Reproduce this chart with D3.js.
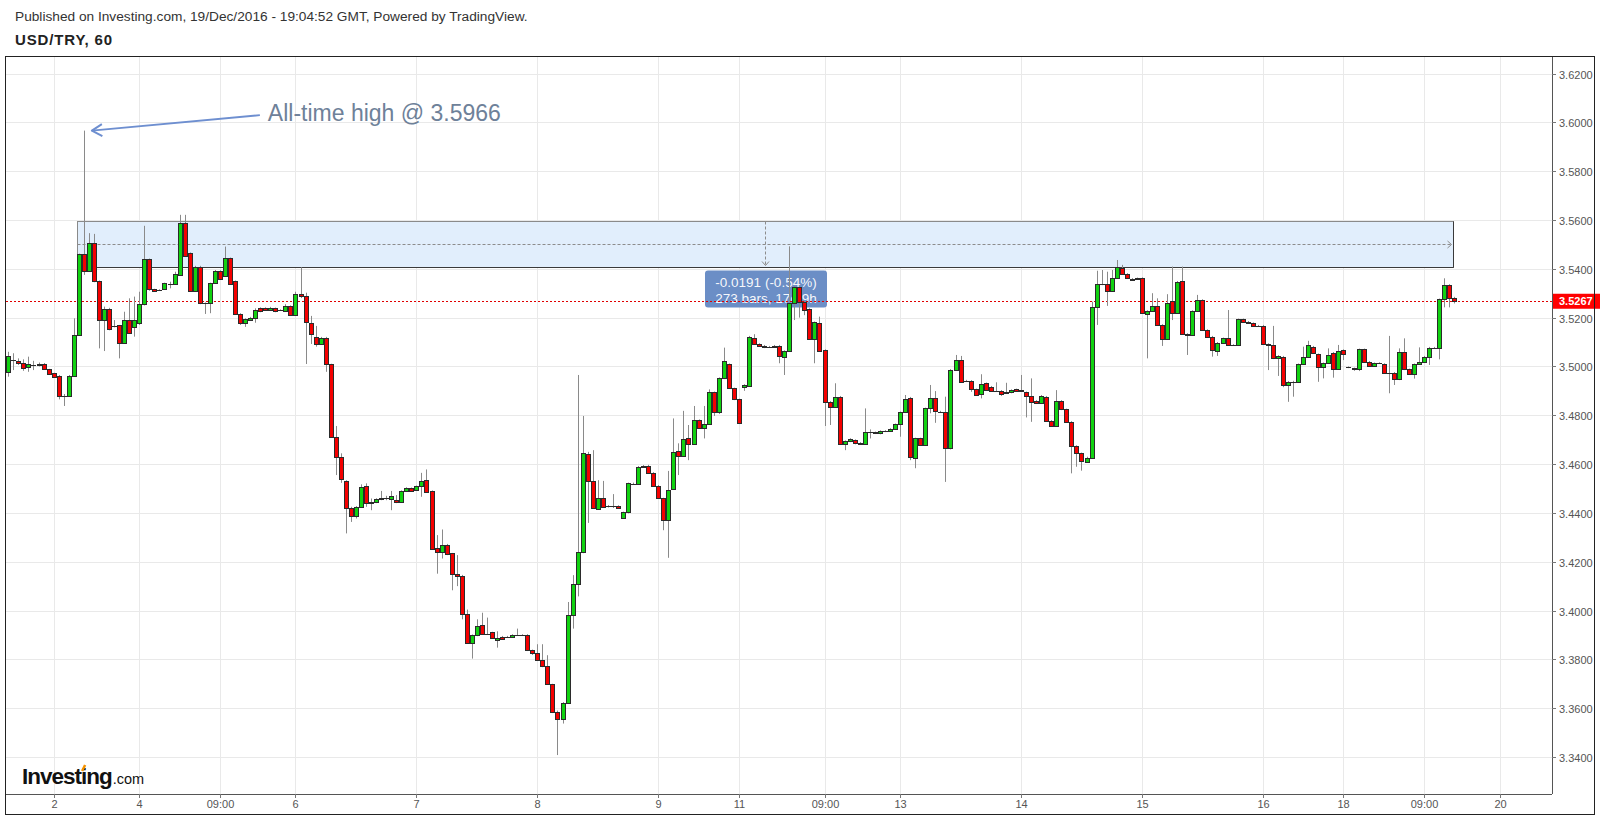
<!DOCTYPE html>
<html><head><meta charset="utf-8">
<script src="https://cdn.jsdelivr.net/npm/d3@7"></script>
<style>html,body{margin:0;padding:0;background:#fff;overflow:hidden;} svg{display:block;font-family:"Liberation Sans",Arial,sans-serif;}</style>
</head><body><svg id="chart" width="1600" height="818"></svg>
<script>
// USD/TRY hourly candles (index 0..287)
const opens = [
3.4976,3.5027,3.5023,3.5015,3.4996,3.5006,3.5007,3.5010,3.4988,3.4972,
3.4961,3.4879,3.4880,3.4962,3.5129,3.5460,3.5392,3.5507,3.5350,3.5190,
3.5235,3.5167,3.5168,3.5097,3.5190,3.5163,3.5177,3.5255,3.5439,3.5316,
3.5312,3.5316,3.5338,3.5338,3.5375,3.5589,3.5464,3.5309,3.5409,3.5259,
3.5259,3.5341,3.5391,3.5371,3.5443,3.5350,3.5215,3.5179,3.5190,3.5200,
3.5238,3.5238,3.5231,3.5238,3.5230,3.5227,3.5248,3.5211,3.5297,3.5289,
3.5179,3.5122,3.5092,3.5118,3.5009,3.4712,3.4627,3.4531,3.4422,3.4388,
3.4425,3.4510,3.4439,3.4445,3.4457,3.4459,3.4455,3.4452,3.4445,3.4490,
3.4500,3.4492,3.4509,3.4534,3.4489,3.4257,3.4238,3.4270,3.4234,3.4148,
3.4143,3.3984,3.3867,3.3899,3.3939,3.3905,3.3911,3.3881,3.3892,3.3892,
3.3892,3.3900,3.3900,3.3900,3.3837,3.3824,3.3799,3.3772,3.3698,3.3584,
3.3554,3.3622,3.3981,3.4107,3.4238,3.4641,3.4531,3.4417,3.4463,3.4429,
3.4428,3.4428,3.4381,3.4402,3.4518,3.4518,3.4589,3.4593,3.4564,3.4511,
3.4459,3.4370,3.4498,3.4653,3.4634,3.4708,3.4682,3.4780,3.4746,3.4764,
3.4894,3.4812,3.4951,3.5009,3.4910,3.4865,3.4914,3.4920,3.5115,3.5092,
3.5085,3.5081,3.5081,3.5085,3.5040,3.5063,3.5261,3.5324,3.5265,3.5235,
3.5112,3.5177,3.5067,3.4855,3.4835,3.4876,3.4681,3.4694,3.4698,3.4687,
3.4682,3.4730,3.4730,3.4726,3.4736,3.4735,3.4743,3.4763,3.4812,3.4872,
3.4626,3.4705,3.4678,3.4828,3.4872,3.4813,3.4812,3.4664,3.4985,3.5026,
3.4939,3.4941,3.4906,3.4887,3.4931,3.4917,3.4899,3.4900,3.4892,3.4894,
3.4906,3.4903,3.4894,3.4880,3.4859,3.4849,3.4876,3.4777,3.4756,3.4859,
3.4824,3.4773,3.4674,3.4644,3.4609,3.4626,3.5245,3.5337,3.5337,3.5310,
3.5364,3.5402,3.5379,3.5359,3.5357,3.5361,3.5215,3.5227,3.5248,3.5170,
3.5112,3.5268,3.5218,3.5351,3.5133,3.5129,3.5227,3.5272,3.5149,3.5122,
3.5064,3.5097,3.5115,3.5088,3.5088,3.5193,3.5183,3.5177,3.5167,3.5167,
3.5092,3.5088,3.5033,3.5040,3.4924,3.4937,3.4935,3.5009,3.5040,3.5081,
3.5050,3.4996,3.5013,3.5056,3.4989,3.5067,3.4997,3.4992,3.4989,3.5070,
3.5019,3.5002,3.5013,3.5010,3.4974,3.4974,3.4947,3.5060,3.4988,3.4968,
3.5009,3.5019,3.5040,3.5077,3.5077,3.5275,3.5334,3.5282];
const highs = [
3.5060,3.5054,3.5033,3.5029,3.5040,3.5023,3.5016,3.5014,3.4990,3.4974,
3.4965,3.4887,3.4965,3.5197,3.5462,3.5966,3.5546,3.5543,3.5352,3.5245,
3.5240,3.5190,3.5170,3.5224,3.5279,3.5286,3.5306,3.5576,3.5442,3.5318,
3.5316,3.5343,3.5347,3.5388,3.5621,3.5621,3.5467,3.5412,3.5412,3.5262,
3.5343,3.5395,3.5394,3.5491,3.5446,3.5352,3.5218,3.5197,3.5203,3.5238,
3.5242,3.5242,3.5244,3.5241,3.5234,3.5255,3.5250,3.5306,3.5406,3.5302,
3.5207,3.5166,3.5121,3.5121,3.5011,3.4756,3.4644,3.4534,3.4425,3.4428,
3.4517,3.4521,3.4459,3.4460,3.4490,3.4470,3.4490,3.4473,3.4492,3.4505,
3.4504,3.4512,3.4564,3.4578,3.4492,3.4309,3.4332,3.4273,3.4236,3.4227,
3.4146,3.4004,3.3902,3.3964,3.3991,3.3971,3.3913,3.3915,3.3896,3.3896,
3.3903,3.3926,3.3903,3.3903,3.3840,3.3862,3.3862,3.3817,3.3700,3.3590,
3.3625,3.4035,3.4145,3.4965,3.4797,3.4650,3.4657,3.4534,3.4531,3.4432,
3.4477,3.4431,3.4405,3.4524,3.4524,3.4592,3.4596,3.4597,3.4567,3.4514,
3.4462,3.4572,3.4787,3.4685,3.4818,3.4760,3.4838,3.4783,3.4838,3.4906,
3.4897,3.4955,3.5077,3.5012,3.4913,3.4868,3.4927,3.5125,3.5132,3.5095,
3.5088,3.5084,3.5088,3.5088,3.5066,3.5492,3.5330,3.5327,3.5268,3.5238,
3.5184,3.5204,3.5070,3.4858,3.4931,3.4879,3.4697,3.4706,3.4701,3.4690,
3.4828,3.4742,3.4733,3.4738,3.4739,3.4747,3.4766,3.4815,3.4883,3.4875,
3.4708,3.4708,3.4831,3.4924,3.4899,3.4818,3.4876,3.4989,3.5047,3.5043,
3.4945,3.4944,3.4909,3.4968,3.4934,3.4920,3.4935,3.4903,3.4933,3.4906,
3.4909,3.4965,3.4897,3.4951,3.4862,3.4883,3.4879,3.4780,3.4903,3.4862,
3.4827,3.4776,3.4677,3.4647,3.4630,3.5265,3.5392,3.5395,3.5388,3.5395,
3.5436,3.5416,3.5382,3.5362,3.5364,3.5365,3.5230,3.5300,3.5279,3.5173,
3.5296,3.5409,3.5350,3.5409,3.5136,3.5230,3.5293,3.5275,3.5152,3.5125,
3.5100,3.5118,3.5231,3.5091,3.5196,3.5196,3.5186,3.5180,3.5170,3.5170,
3.5095,3.5166,3.5046,3.5043,3.4940,3.4941,3.5012,3.5081,3.5105,3.5084,
3.5053,3.5016,3.5074,3.5059,3.5088,3.5070,3.5000,3.4995,3.5073,3.5073,
3.5022,3.5016,3.5017,3.5013,3.5125,3.4977,3.5074,3.5115,3.4991,3.5012,
3.5078,3.5043,3.5080,3.5080,3.5278,3.5361,3.5337,3.5285];
const lows = [
3.4958,3.4985,3.5006,3.4982,3.4978,3.4985,3.5000,3.4988,3.4965,3.4955,
3.4865,3.4838,3.4875,3.4960,3.5125,3.5375,3.5388,3.5345,3.5074,3.5063,
3.5148,3.5160,3.5033,3.5095,3.5135,3.5122,3.5170,3.5250,3.5310,3.5305,
3.5309,3.5313,3.5320,3.5335,3.5372,3.5450,3.5305,3.5305,3.5255,3.5215,
3.5218,3.5338,3.5355,3.5368,3.5334,3.5212,3.5170,3.5162,3.5186,3.5179,
3.5222,3.5229,3.5228,3.5222,3.5227,3.5225,3.5208,3.5208,3.5280,3.5010,
3.5092,3.5081,3.5089,3.4978,3.4708,3.4555,3.4523,3.4316,3.4363,3.4377,
3.4422,3.4425,3.4411,3.4440,3.4452,3.4452,3.4411,3.4440,3.4442,3.4487,
3.4487,3.4490,3.4466,3.4483,3.4250,3.4151,3.4213,3.4227,3.4083,3.4100,
3.3964,3.3864,3.3803,3.3895,3.3902,3.3900,3.3886,3.3848,3.3882,3.3889,
3.3888,3.3897,3.3896,3.3834,3.3818,3.3796,3.3768,3.3695,3.3580,3.3408,
3.3537,3.3619,3.3926,3.4058,3.4235,3.4359,3.4418,3.4414,3.4420,3.4422,
3.4420,3.4419,3.4378,3.4398,3.4515,3.4515,3.4586,3.4561,3.4508,3.4459,
3.4329,3.4216,3.4495,3.4555,3.4630,3.4616,3.4679,3.4745,3.4705,3.4760,
3.4797,3.4805,3.4948,3.4910,3.4862,3.4764,3.4900,3.4917,3.5089,3.5081,
3.5075,3.5077,3.5078,3.5013,3.4965,3.5060,3.5190,3.5200,3.5210,3.5109,
3.5013,3.5061,3.4756,3.4760,3.4832,3.4678,3.4657,3.4690,3.4681,3.4679,
3.4679,3.4705,3.4723,3.4722,3.4731,3.4732,3.4740,3.4712,3.4809,3.4616,
3.4583,3.4675,3.4675,3.4808,3.4769,3.4810,3.4527,3.4660,3.4982,3.4934,
3.4936,3.4896,3.4880,3.4869,3.4900,3.4896,3.4896,3.4879,3.4889,3.4890,
3.4897,3.4898,3.4791,3.4773,3.4846,3.4846,3.4773,3.4752,3.4753,3.4821,
3.4770,3.4562,3.4589,3.4573,3.4605,3.4622,3.5170,3.5333,3.5248,3.5307,
3.5361,3.5376,3.5358,3.5353,3.5354,3.5217,3.5033,3.5224,3.5167,3.5084,
3.5109,3.5190,3.5215,3.5130,3.5047,3.5126,3.5224,3.5146,3.5119,3.5040,
3.5043,3.5094,3.5085,3.5085,3.5085,3.5180,3.5174,3.5164,3.5163,3.5089,
3.4985,3.5030,3.4961,3.4915,3.4855,3.4876,3.4932,3.5006,3.5037,3.5051,
3.4937,3.4951,3.5010,3.4954,3.4986,3.5026,3.4993,3.4982,3.4981,3.5016,
3.4999,3.4999,3.5010,3.4971,3.4890,3.4924,3.4944,3.4985,3.4965,3.4950,
3.5006,3.5016,3.5006,3.5074,3.5029,3.5242,3.5242,3.5258];
const closes = [
3.5044,3.5025,3.5015,3.4992,3.5009,3.5005,3.5009,3.4991,3.4969,3.4958,
3.4879,3.4880,3.4962,3.5129,3.5460,3.5392,3.5505,3.5349,3.5190,3.5235,
3.5152,3.5165,3.5097,3.5190,3.5138,3.5190,3.5255,3.5439,3.5316,3.5308,
3.5313,3.5341,3.5338,3.5378,3.5587,3.5453,3.5309,3.5409,3.5259,3.5258,
3.5341,3.5392,3.5358,3.5443,3.5337,3.5215,3.5177,3.5194,3.5200,3.5231,
3.5227,3.5232,3.5238,3.5227,3.5231,3.5248,3.5211,3.5297,3.5289,3.5183,
3.5133,3.5092,3.5118,3.5009,3.4712,3.4627,3.4538,3.4422,3.4388,3.4425,
3.4507,3.4439,3.4445,3.4455,3.4459,3.4459,3.4469,3.4445,3.4490,3.4500,
3.4490,3.4509,3.4530,3.4486,3.4254,3.4238,3.4270,3.4230,3.4148,3.4141,
3.3984,3.3867,3.3899,3.3937,3.3905,3.3904,3.3889,3.3889,3.3885,3.3892,
3.3899,3.3900,3.3899,3.3837,3.3824,3.3799,3.3772,3.3698,3.3584,3.3557,
3.3622,3.3981,3.4107,3.4240,3.4644,3.4531,3.4421,3.4463,3.4425,3.4428,
3.4428,3.4422,3.4402,3.4521,3.4520,3.4589,3.4593,3.4564,3.4511,3.4462,
3.4370,3.4493,3.4648,3.4634,3.4701,3.4682,3.4780,3.4749,3.4764,3.4894,
3.4812,3.4951,3.5023,3.4913,3.4865,3.4767,3.4924,3.5122,3.5092,3.5084,
3.5078,3.5080,3.5085,3.5043,3.5063,3.5261,3.5327,3.5265,3.5231,3.5112,
3.5181,3.5064,3.4855,3.4835,3.4876,3.4681,3.4694,3.4701,3.4685,3.4682,
3.4730,3.4730,3.4726,3.4735,3.4734,3.4743,3.4763,3.4812,3.4866,3.4630,
3.4705,3.4678,3.4828,3.4872,3.4817,3.4815,3.4664,3.4985,3.5026,3.4937,
3.4942,3.4906,3.4883,3.4927,3.4903,3.4899,3.4901,3.4887,3.4896,3.4903,
3.4900,3.4901,3.4880,3.4855,3.4849,3.4880,3.4777,3.4756,3.4859,3.4824,
3.4773,3.4674,3.4644,3.4612,3.4626,3.5245,3.5337,3.5336,3.5310,3.5364,
3.5406,3.5379,3.5361,3.5356,3.5361,3.5220,3.5227,3.5248,3.5170,3.5112,
3.5259,3.5218,3.5347,3.5133,3.5129,3.5227,3.5272,3.5149,3.5122,3.5067,
3.5097,3.5115,3.5088,3.5088,3.5193,3.5183,3.5177,3.5167,3.5166,3.5092,
3.5088,3.5033,3.5043,3.4924,3.4937,3.4938,3.5009,3.5040,3.5088,3.5054,
3.4999,3.5013,3.5047,3.4989,3.5064,3.5051,3.4996,3.4988,3.5070,3.5019,
3.5002,3.5013,3.5013,3.4974,3.4973,3.4947,3.5060,3.4988,3.4968,3.5009,
3.5019,3.5040,3.5077,3.5077,3.5275,3.5334,3.5282,3.5267];

const xTickIndex  = [9, 26, 42, 57, 81, 105, 129, 145, 162, 177, 201, 225, 249, 265, 281, 296];
const xTickLabels = ["2","4","09:00","6","7","8","9","11","09:00","13","14","15","16","18","09:00","20"];
const yTickValues = [3.34,3.36,3.38,3.40,3.42,3.44,3.46,3.48,3.50,3.52,3.54,3.56,3.58,3.60,3.62];
const lastPrice = 3.5267;
const athIndex = 15, athValue = 3.5966;
const zoneStart = 13.6, zoneEnd = 286.8, zoneTop = 3.5597, zoneBottom = 3.5408, zoneMid = 3.5502;
const measureIndex = 150.2;
const measureLines = ["-0.0191 (-0.54%)", "273 bars, 17d 9h"];
const headerText = "Published on Investing.com, 19/Dec/2016 - 19:04:52 GMT, Powered by TradingView.";
const symbolText = "USD/TRY, 60";
const athText = "All-time high @ 3.5966";

const candles = opens.map((o, i) => ({i, o, h: highs[i], l: lows[i], c: closes[i]}));

const svg = d3.select("#chart");
const L = 6, R = 1552, T = 57, B = 794;
const x = d3.scaleLinear().domain([0, 287]).range([8.3, 1454.3]);
const y = d3.scaleLinear().domain([3.34, 3.62]).range([757, 73.5]);
const px = v => Math.round(v) + 0.5;

// header
svg.append("text").attr("x", 15).attr("y", 21).attr("font-size", 13.7).attr("fill", "#333").text(headerText);
svg.append("text").attr("x", 15).attr("y", 45).attr("font-size", 15).attr("font-weight", "bold")
  .attr("letter-spacing", "0.85").attr("fill", "#222").text(symbolText);

svg.append("defs").append("clipPath").attr("id", "plotclip")
  .append("rect").attr("x", L).attr("y", T).attr("width", R - L).attr("height", B - T);

const plot = svg.append("g").attr("clip-path", "url(#plotclip)");

// grid
plot.selectAll("line.hg").data(yTickValues).enter().append("line")
  .attr("x1", L).attr("x2", R).attr("y1", d => px(y(d))).attr("y2", d => px(y(d)))
  .attr("stroke", "#e9e9e9").attr("stroke-width", 1);
plot.selectAll("line.vg").data(xTickIndex).enter().append("line")
  .attr("y1", T).attr("y2", B).attr("x1", d => px(x(d))).attr("x2", d => px(x(d)))
  .attr("stroke", "#e9e9e9").attr("stroke-width", 1);

// zone rectangle
const zx1 = px(x(zoneStart)), zx2 = px(x(zoneEnd)), zy1 = px(y(zoneTop)), zy2 = px(y(zoneBottom));
plot.append("rect").attr("x", zx1).attr("y", zy1).attr("width", zx2 - zx1).attr("height", zy2 - zy1)
  .attr("fill", "#e1eefc").attr("stroke", "#8a8a8a").attr("stroke-width", 1);
plot.append("line").attr("x1", zx1).attr("x2", zx2).attr("y1", zy2).attr("y2", zy2).attr("stroke", "#3a3a3a");
plot.append("line").attr("x1", zx2).attr("x2", zx2).attr("y1", zy1).attr("y2", zy2).attr("stroke", "#3a3a3a");
// dashed measure lines
const zm = px(y(zoneMid)), mx = px(x(measureIndex));
plot.append("line").attr("x1", zx1).attr("x2", zx2 - 2).attr("y1", zm).attr("y2", zm)
  .attr("stroke", "#8c8c8c").attr("stroke-dasharray", "3,2");
plot.append("path").attr("d", `M${zx2 - 6},${zm - 3.5}L${zx2 - 2},${zm}L${zx2 - 6},${zm + 3.5}`)
  .attr("fill", "none").attr("stroke", "#8c8c8c");
plot.append("line").attr("x1", mx).attr("x2", mx).attr("y1", zy1).attr("y2", zy2 - 2)
  .attr("stroke", "#8c8c8c").attr("stroke-dasharray", "3,2");
plot.append("path").attr("d", `M${mx - 3.5},${zy2 - 6}L${mx},${zy2 - 2}L${mx + 3.5},${zy2 - 6}`)
  .attr("fill", "none").attr("stroke", "#8c8c8c");

// measure tooltip
const tip = plot.append("g");
tip.append("rect").attr("x", mx - 60.5).attr("y", zy2 + 3).attr("width", 122).attr("height", 37).attr("rx", 3)
  .attr("fill", "#6b8ec6");
measureLines.forEach((t, k) => {
  tip.append("text").attr("x", mx + 0.5).attr("y", zy2 + 19 + k * 16).attr("text-anchor", "middle")
    .attr("font-size", 13.5).attr("fill", "#ffffff").attr("fill-opacity", 0.95).text(t);
});

// last price line
plot.append("line").attr("x1", L).attr("x2", R).attr("y1", px(y(lastPrice))).attr("y2", px(y(lastPrice)))
  .attr("stroke", "#e00000").attr("stroke-dasharray", "2,2");

// candles
const cg = plot.append("g");
candles.forEach(d => {
  const cx = Math.round(x(d.i));
  cg.append("line").attr("x1", cx + 0.5).attr("x2", cx + 0.5)
    .attr("y1", y(d.h)).attr("y2", y(d.l)).attr("stroke", "#8a8a8a").attr("stroke-width", 1);
});
candles.forEach(d => {
  const cx = Math.round(x(d.i));
  const up = d.c >= d.o;
  const t = Math.round(y(Math.max(d.o, d.c))), b = Math.round(y(Math.min(d.o, d.c)));
  cg.append("rect").attr("x", cx - 1.5).attr("y", t + 0.5).attr("width", 4).attr("height", Math.max(0.01, b - t))
    .attr("fill", up ? "#11d211" : "#f40000").attr("stroke", "#2b2b2b").attr("stroke-width", 1);
});

// all-time high annotation
const ax = x(athIndex) + 8, ay = y(athValue);
svg.append("path").attr("d", `M${ax},${ay}L${ax + 168},${ay - 15.5}`).attr("stroke", "#6e8fd0").attr("stroke-width", 2).attr("fill", "none");
svg.append("path").attr("d", `M${ax + 10},${ay - 6.5}L${ax},${ay}L${ax + 10.5},${ay + 5.5}`)
  .attr("stroke", "#6e8fd0").attr("stroke-width", 2).attr("fill", "none").attr("stroke-linejoin", "round");
svg.append("text").attr("x", ax + 176).attr("y", ay - 9.5).attr("font-size", 23).attr("fill", "#6e8199").text(athText);

// axes lines
svg.append("line").attr("x1", L).attr("x2", R).attr("y1", B + 0.5).attr("y2", B + 0.5).attr("stroke", "#555");
svg.append("line").attr("x1", R + 0.5).attr("x2", R + 0.5).attr("y1", T).attr("y2", B).attr("stroke", "#555");

// y axis labels
const yg = svg.append("g");
yTickValues.forEach(v => {
  const yy = px(y(v));
  yg.append("line").attr("x1", R).attr("x2", R + 4).attr("y1", yy).attr("y2", yy).attr("stroke", "#777");
  yg.append("text").attr("x", R + 7).attr("y", yy + 4).attr("font-size", 11).attr("fill", "#555")
    .text(d3.format(".4f")(v));
});
const ly = y(lastPrice);
svg.append("rect").attr("x", R + 1).attr("y", ly - 7.5).attr("width", 47).attr("height", 15).attr("fill", "#ff0000");
svg.append("text").attr("x", R + 7).attr("y", ly + 4).attr("font-size", 11).attr("font-weight", "bold")
  .attr("fill", "#ffffff").text(d3.format(".4f")(lastPrice));

// x axis labels
xTickIndex.forEach((idx, k) => {
  const xx = px(x(idx));
  svg.append("line").attr("x1", xx).attr("x2", xx).attr("y1", B).attr("y2", B + 4).attr("stroke", "#777");
  svg.append("text").attr("x", xx).attr("y", B + 14).attr("text-anchor", "middle").attr("font-size", 11)
    .attr("fill", "#555").text(xTickLabels[k]);
});

// logo
const logo = svg.append("text").attr("x", 22).attr("y", 784).attr("fill", "#111");
logo.append("tspan").attr("font-size", 22.5).attr("font-weight", "bold").attr("letter-spacing", "-1").text("Investing");
logo.append("tspan").attr("font-size", 14.5).attr("dx", 1).text(".com");
let ix = 90, iy = 768;
try {
  const ext = logo.node().getExtentOfChar(6);
  ix = ext.x + ext.width / 2; iy = ext.y + 3;
} catch (e) {}
svg.append("path").attr("d", `M${ix - 1.5},${iy + 4}L${ix + 1.5},${iy - 2}`).attr("stroke", "#f39200").attr("stroke-width", 2.5);

// outer border
svg.append("rect").attr("x", 5.5).attr("y", T - 0.5).attr("width", 1589).attr("height", 815 - T)
  .attr("fill", "none").attr("stroke", "#222").attr("stroke-width", 1);
</script></body></html>
